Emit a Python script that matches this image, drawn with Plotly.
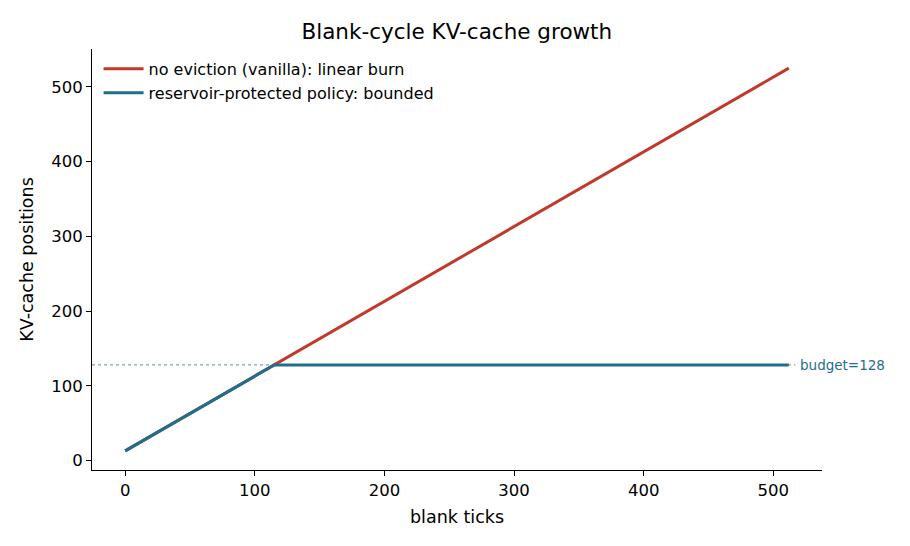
import plotly.graph_objects as go

# data
ticks = [0, 115, 512]
vanilla = [13, 128, 525]
reservoir = [13, 128, 128]
budget = 128
x_ticks = [0, 100, 200, 300, 400, 500]
y_ticks = [0, 100, 200, 300, 400, 500]

RED = "#c0392b"
BLUE = "#1f6f8b"
FONT = "DejaVu Sans"

fig = go.Figure()
xr = [-25.6, 537.6]
yr = [-12.6, 550.6]

fig.add_trace(go.Scatter(x=[xr[0], 517], y=[budget, budget], mode="lines",
                         line=dict(color=BLUE, width=1.2, dash="dot"),
                         opacity=0.6, showlegend=False, hoverinfo="skip"))
fig.add_trace(go.Scatter(x=ticks, y=vanilla, mode="lines",
                         name="no eviction (vanilla): linear burn",
                         line=dict(color=RED, width=3)))
fig.add_trace(go.Scatter(x=ticks, y=reservoir, mode="lines",
                         name="reservoir-protected policy: bounded",
                         line=dict(color=BLUE, width=3)))

fig.add_annotation(x=519, y=budget, text=f"budget={budget}", showarrow=False,
                   xanchor="left", yanchor="middle", xref="x", yref="y",
                   font=dict(family=FONT, size=13.5, color=BLUE))

fig.update_layout(
    width=910, height=546,
    margin=dict(l=92, r=88, t=49, b=76),
    plot_bgcolor="white", paper_bgcolor="white",
    font=dict(family=FONT, size=16, color="black"),
    title=dict(text="Blank-cycle KV-cache growth", x=0.502, xanchor="center",
               y=0.943, yanchor="middle", font=dict(size=21.5, family=FONT)),
    legend=dict(x=0.009, y=0.993, xanchor="left", yanchor="top",
                bgcolor="rgba(0,0,0,0)", font=dict(size=16, family=FONT),
                tracegroupgap=0, itemwidth=40),
    showlegend=True,
)
fig.update_xaxes(range=xr, tickvals=x_ticks, showgrid=False, zeroline=False,
                 showline=True, linecolor="black", linewidth=1,
                 ticks="outside", ticklen=5, tickcolor="black",
                 title=dict(text="blank ticks", font=dict(size=17.5), standoff=11),
                 tickfont=dict(size=16.5))
fig.update_yaxes(range=yr, tickvals=y_ticks, showgrid=False, zeroline=False,
                 showline=True, linecolor="black", linewidth=1,
                 ticks="outside", ticklen=5, tickcolor="black",
                 title=dict(text="KV-cache positions", font=dict(size=17.5), standoff=13),
                 tickfont=dict(size=16.5))

fig.write_html("out.html")
